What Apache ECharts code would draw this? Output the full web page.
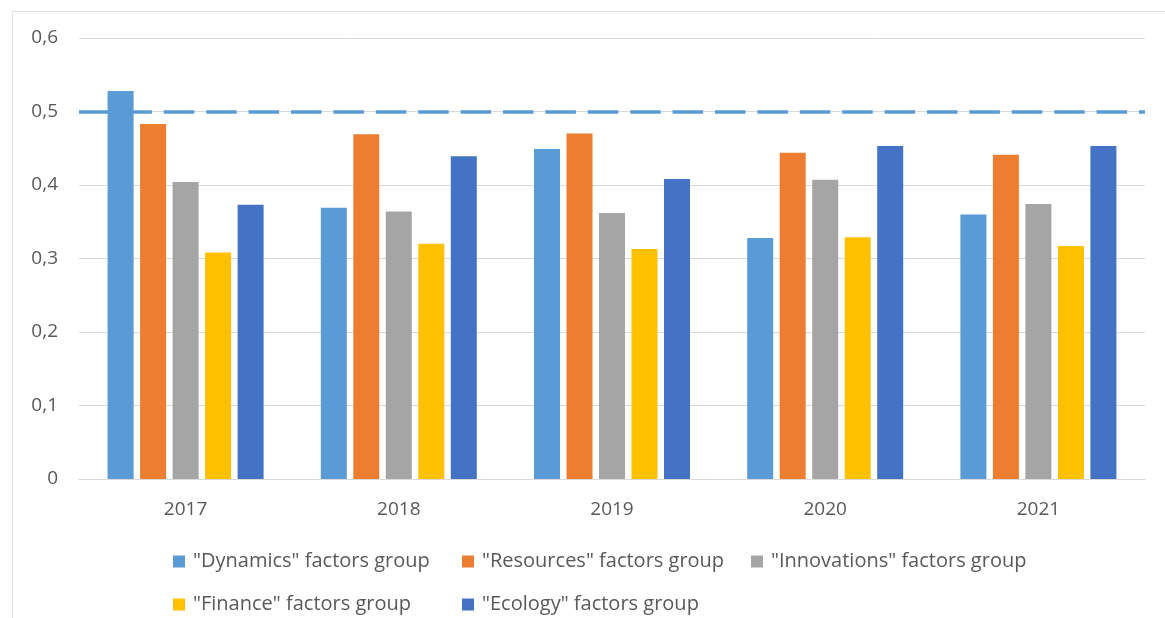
<!DOCTYPE html>
<html>
<head>
<meta charset="utf-8">
<title>Factor groups by year</title>
<script src="https://cdn.jsdelivr.net/npm/echarts@6/dist/echarts.min.js"></script>
<style>
  html, body { margin: 0; padding: 0; background: #ffffff; }
  #chart { width: 1165px; height: 618px; }
</style>
</head>
<body>
<div id="chart"></div>
<script>
// Years on the category axis
const years = ['2017', '2018', '2019', '2020', '2021'];

// Integral index of each factor group per year
const dynamics    = [0.528, 0.369, 0.449, 0.328, 0.360];
const resources   = [0.483, 0.469, 0.470, 0.444, 0.441];
const innovations = [0.404, 0.364, 0.362, 0.407, 0.374];
const finance     = [0.308, 0.320, 0.313, 0.329, 0.317];
const ecology     = [0.373, 0.439, 0.408, 0.453, 0.453];

// Threshold shown as the dashed reference line
const threshold = 0.496;

// Value axis ticks
const yTicks = [0, 0.1, 0.2, 0.3, 0.4, 0.5, 0.6];

const seriesNames = [
  '"Dynamics" factors group',
  '"Resources" factors group',
  '"Innovations" factors group',
  '"Finance" factors group',
  '"Ecology" factors group'
];
const seriesData = [dynamics, resources, innovations, finance, ecology];
const colors = ['#5b9bd5', '#ed7d31', '#a5a5a5', '#ffc000', '#4472c4'];

const textColor = '#595959';
const fontFamily = '"Open Sans", "Noto Sans", sans-serif';

const chart = echarts.init(document.getElementById('chart'), null, { renderer: 'canvas' });

const series = seriesNames.map((name, i) => {
  const s = {
    name: name,
    type: 'bar',
    data: seriesData[i],
    barWidth: 26,
    barGap: '25%',
    itemStyle: { color: colors[i] },
    emphasis: { disabled: true },
    z: 2
  };
  if (i === 0) {
    s.markLine = {
      silent: true,
      symbol: ['none', 'none'],
      label: { show: false },
      lineStyle: {
        color: '#5b9bd5',
        width: 3.5,
        type: [30.5, 11.9],
        opacity: 1
      },
      emphasis: { disabled: true },
      data: [{ yAxis: threshold }],
      z: 5
    };
  }
  return s;
});

chart.setOption({
  animation: false,
  backgroundColor: '#ffffff',
  color: colors,
  graphic: [{
    type: 'rect',
    silent: true,
    shape: { x: 12.5, y: 11.5, width: 1200, height: 700 },
    style: { fill: 'none', stroke: '#e0e0e0', lineWidth: 1 }
  }],
  grid: {
    left: 79,
    right: 20,
    top: 38,
    bottom: 139,
    containLabel: false
  },
  legend: {
    data: seriesNames,
    left: 168,
    top: 535,
    width: 880,
    orient: 'horizontal',
    itemWidth: 12,
    itemHeight: 12,
    itemGap: 0,
    icon: 'rect',
    selectedMode: false,
    textStyle: {
      color: textColor,
      fontFamily: fontFamily,
      fontSize: 20,
      width: 269,
      lineHeight: 43,
      padding: [0, 0, 0, 3]
    }
  },
  xAxis: {
    type: 'category',
    data: years,
    axisLine: { show: true, lineStyle: { color: '#d9d9d9', width: 1 } },
    axisTick: { show: false },
    axisLabel: {
      color: textColor,
      fontFamily: fontFamily,
      fontSize: 19,
      margin: 21
    },
    splitLine: { show: false }
  },
  yAxis: {
    type: 'value',
    min: yTicks[0],
    max: yTicks[yTicks.length - 1],
    interval: 0.1,
    axisLine: { show: false },
    axisTick: { show: false },
    axisLabel: {
      color: textColor,
      fontFamily: fontFamily,
      fontSize: 19,
      margin: 21,
      formatter: v => {
        const t = yTicks.find(x => Math.abs(x - v) < 1e-9);
        return (t === undefined ? v : t).toString().replace('.', ',');
      }
    },
    splitLine: { show: true, lineStyle: { color: '#d9d9d9', width: 1 } }
  },
  series: series
});
</script>
</body>
</html>
